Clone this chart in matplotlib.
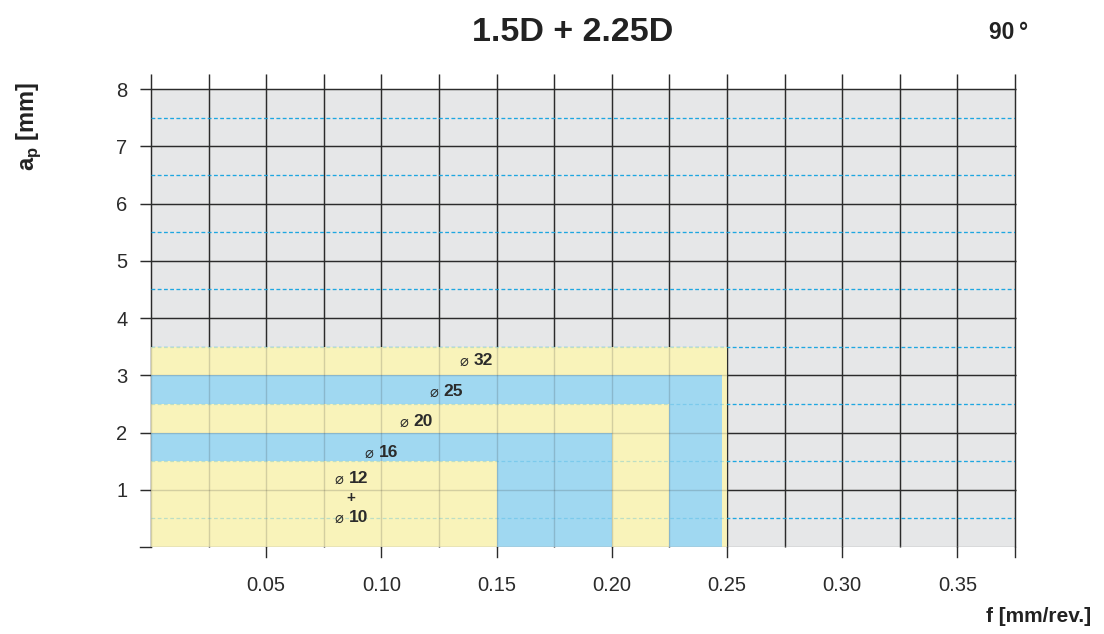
import numpy as np
import matplotlib
matplotlib.use("Agg")
import matplotlib.pyplot as plt

plt.rcParams['font.family'] = ['Liberation Sans', 'DejaVu Sans']

# diameter ranges (drawn largest first)
sizes = ["32", "25", "20", "16", "12"]
f_max = [0.25, 0.248, 0.225, 0.20, 0.15]
ap_max = [3.5, 3.0, 2.5, 2.0, 1.5]
fills = ["yellow", "blue", "yellow", "blue", "yellow"]

label_text = ["32", "25", "20", "16", "12", "10"]
label_f = [0.140, 0.127, 0.114, 0.099, 0.086, 0.086]
label_ap = [3.25, 2.72, 2.19, 1.65, 1.19, 0.52]

x_ticks = [0.05, 0.10, 0.15, 0.20, 0.25, 0.30, 0.35]
x_tick_labels = ["0.05", "0.10", "0.15", "0.20", "0.25", "0.30", "0.35"]
y_ticks = [0, 1, 2, 3, 4, 5, 6, 7, 8]
y_tick_labels = ["", "1", "2", "3", "4", "5", "6", "7", "8"]

palette = {"yellow": "#F9F3BA", "blue": "#A0D8F1"}
dark = "#2b2b2b"

fig = plt.figure(figsize=(11.04, 6.34), dpi=100)
ax = fig.add_axes([0.1368, 0.1372, 0.9194 - 0.1368, 0.8596 - 0.1372])
ax.set_xlim(0, 0.375)
ax.set_ylim(0, 8)
ax.set_facecolor("#E6E7E8")
for s in ax.spines.values():
    s.set_visible(False)

xs = np.arange(0, 0.3751, 0.025)
halves = np.arange(0.5, 8, 1.0)


def draw_grid(alpha, z):
    # verticals every 0.025, extended above the plot
    ax.vlines(xs, 0, 8.27, color=dark, lw=1.0, zorder=z, clip_on=False, alpha=alpha)
    # horizontal integer lines, extended left as ticks
    ax.hlines(y_ticks[1:], -0.0048, 0.3755, color=dark, lw=1.0, zorder=z,
              clip_on=False, alpha=alpha)
    ax.hlines(halves, 0, 0.375, color="#1EA7E1", lw=0.9,
              linestyles=(0, (3, 2)), zorder=z, alpha=min(1, alpha * 1.5))


draw_grid(1.0, 1)
# bottom ticks at major positions
for x in list(x_ticks) + [0.375]:
    ax.plot([x, x], [0, -0.18], color=dark, lw=1.0, clip_on=False, zorder=1)
ax.plot([-0.0048, 0], [0, 0], color=dark, lw=1.0, clip_on=False)

# coloured ranges
for fm, am, c in zip(f_max, ap_max, fills):
    ax.fill_between([0, fm], 0, am, color=palette[c], lw=0, zorder=2)

draw_grid(0.18, 3)
ax.plot([0, 0.375], [0, 0], color="#a8a8a8", lw=1.0, zorder=3)

# labels
for t, fx, ay in zip(label_text, label_f, label_ap):
    ax.annotate("\u2300", (fx, ay), xytext=(-4, -0.5), textcoords="offset points",
                ha="right", va="center", fontsize=10.5, color=dark, zorder=4,
                family=['DejaVu Sans'])
    ax.annotate(t, (fx, ay), xytext=(0, 0), textcoords="offset points",
                ha="left", va="center", fontsize=12.5, fontweight="bold",
                color=dark, zorder=4)
ax.text(0.0865, 0.855, "+", ha="center", va="center", fontsize=11,
        fontweight="bold", color=dark, zorder=4)

ax.set_xticks(x_ticks)
ax.set_xticklabels(x_tick_labels, fontsize=14.5, color=dark)
ax.set_yticks(y_ticks)
ax.set_yticklabels(y_tick_labels, fontsize=14.5, color=dark)
ax.tick_params(axis="x", length=0, pad=21)
ax.tick_params(axis="y", length=0, pad=17)

fig.text(0.519, 0.949, "1.5D + 2.25D", ha="center", va="center",
         fontsize=24.5, fontweight="bold", color="#222222")
fig.text(0.914, 0.949, "90\u2009\u00b0", ha="center", va="center",
         fontsize=16.5, fontweight="bold", color="#222222")
fig.text(0.026, 0.80, r"a$_\mathregular{p}$ [mm]", rotation=90, ha="center",
         va="center", fontsize=17, fontweight="bold", color="#222222")
fig.text(0.988, 0.027, "f [mm/rev.]", ha="right", va="center",
         fontsize=15, fontweight="bold", color="#222222")

fig.savefig("out.png", dpi=100)
